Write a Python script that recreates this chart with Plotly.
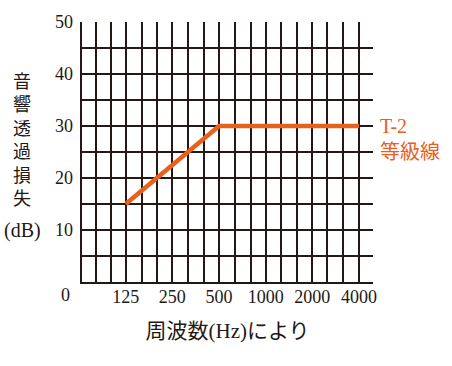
import plotly.graph_objects as go
import math

# Data
freq = [125, 500, 4000]
tl = [15, 30, 30]
grid_freqs = [80, 100, 125, 160, 200, 250, 315, 400, 500, 630, 800,
              1000, 1250, 1600, 2000, 2500, 3150, 4000]
octave_labels = {125: "125", 250: "250", 500: "500", 1000: "1000",
                 2000: "2000", 4000: "4000"}
y_grid = [5, 10, 15, 20, 25, 30, 35, 40, 45]
y_labels = [10, 20, 30, 40, 50]
series_name = "T-2<br>等級線"

INK = "#231815"
ORANGE = "#E8601C"
SERIF = "Liberation Serif, Noto Sans CJK JP"

fig = go.Figure()
fig.add_trace(go.Scatter(x=freq, y=tl, mode="lines",
                         line=dict(color=ORANGE, width=4.5),
                         hoverinfo="skip", showlegend=False))
fig.add_trace(go.Scatter(x=[], y=[], yaxis="y2", showlegend=False))

fig.update_layout(
    width=452, height=366, autosize=False,
    margin=dict(l=82, r=79, t=20, b=84, pad=0),
    paper_bgcolor="white", plot_bgcolor="white",
    font=dict(family=SERIF, color=INK, size=18),
    xaxis=dict(type="log",
               range=[math.log10(65.3), math.log10(4925)],
               tickmode="array", tickvals=grid_freqs,
               ticktext=[octave_labels.get(f, "") for f in grid_freqs],
               showgrid=True, gridcolor=INK, gridwidth=2,
               showline=True, linecolor=INK, linewidth=2,
               ticks="", ticklabelstandoff=-3,
               tickfont=dict(size=18, family=SERIF, color=INK),
               title=dict(text="周波数(Hz)により", standoff=18,
                          font=dict(size=21, family=SERIF, color=INK)),
               zeroline=False),
    yaxis=dict(range=[0, 50], tickmode="array", tickvals=y_grid,
               showticklabels=False, showgrid=True, gridcolor=INK,
               gridwidth=2, showline=True, linecolor=INK, linewidth=2,
               ticks="", zeroline=False),
    yaxis2=dict(range=[0, 50], overlaying="y", side="left",
                tickmode="array", tickvals=y_labels,
                showgrid=False, showline=False, zeroline=False,
                ticks="", ticklabelstandoff=8,
                tickfont=dict(size=18, family=SERIF, color=INK)),
)

fig.add_annotation(text=series_name, xref="paper", x=1, xanchor="left",
                   xshift=5, yref="y", y=30, yanchor="top", yshift=13,
                   align="left", showarrow=False,
                   font=dict(size=20, family=SERIF, color=ORANGE))
fig.add_annotation(text="音<br>響<br>透<br>過<br>損<br>失", xref="paper",
                   x=-0.206, xanchor="center", yref="paper", y=0.544,
                   yanchor="middle", showarrow=False,
                   font=dict(size=18, family=SERIF, color=INK))
fig.add_annotation(text="(dB)", xref="paper", x=-0.203, xanchor="center",
                   yref="paper", y=0.198, yanchor="middle", showarrow=False,
                   font=dict(size=20, family=SERIF, color=INK))
fig.add_annotation(text="0", xref="paper", x=-0.055, xanchor="center",
                   yref="paper", y=-0.05, yanchor="middle", showarrow=False,
                   font=dict(size=18, family=SERIF, color=INK))

fig.write_html("out.html")
